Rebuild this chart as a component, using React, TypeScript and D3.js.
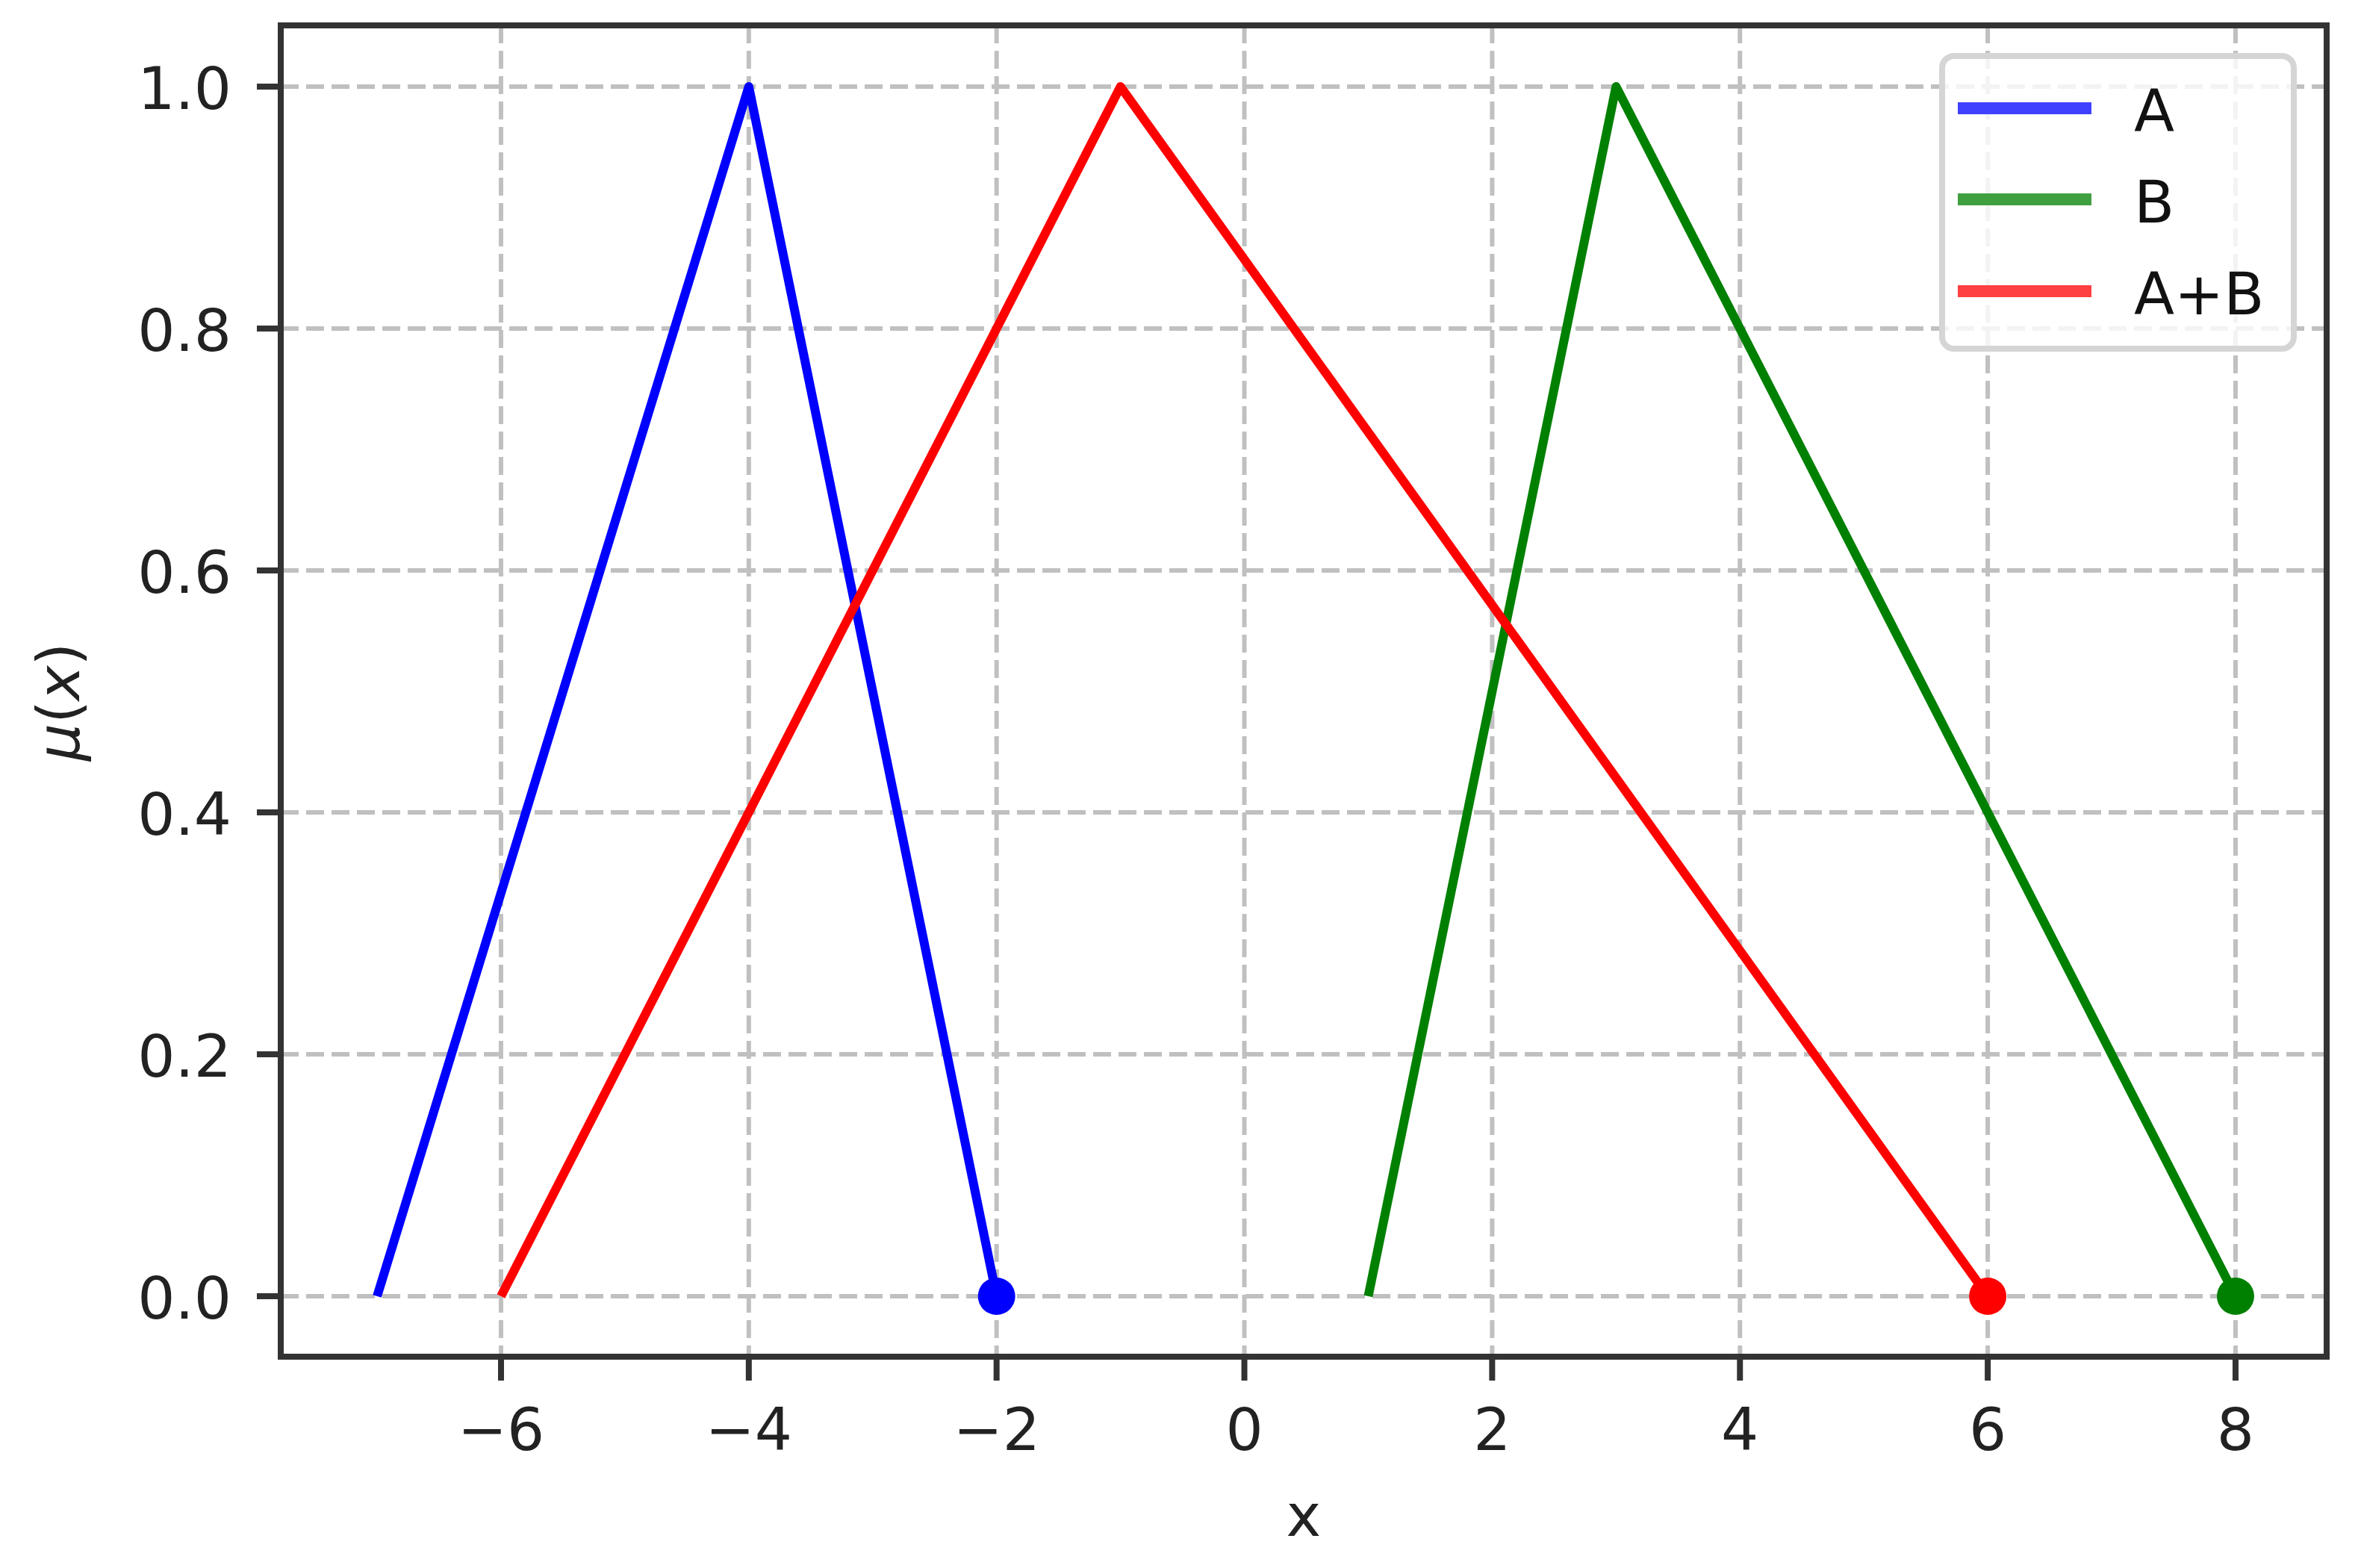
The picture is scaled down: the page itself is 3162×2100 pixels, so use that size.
import React from 'react';
import * as d3 from 'd3';

const seriesNames = ['A', 'B', 'A+B'];
const seriesColors = ['#0000ff', '#008000', '#ff0000'];
const legendColors = ['#4040ff', '#40a040', '#ff4040'];
const aX = [-7, -4, -2];
const aY = [0, 1, 0];
const bX = [1, 3, 8];
const bY = [0, 1, 0];
const abX = [-6, -1, 6];
const abY = [0, 1, 0];
const xTicks = [-6, -4, -2, 0, 2, 4, 6, 8];
const yTicks = [0, 0.2, 0.4, 0.6, 0.8, 1.0];
const xDomain = [-7.75, 8.75];
const yDomain = [-0.05, 1.05];

const W = 3162;
const H = 2100;
const L = 376, R = 3116, T = 34, B = 1817;
const FS = 79;
const FONT = '"DejaVu Sans", sans-serif';

export default function App() {
  const x = d3.scaleLinear().domain(xDomain).range([380.6, 3118.4]);
  const y = d3.scaleLinear().domain(yDomain).range([1817, 35]);
  const line = d3.line<[number, number]>().x(d => x(d[0])).y(d => y(d[1]));
  const series = [
    { xs: aX, ys: aY },
    { xs: bX, ys: bY },
    { xs: abX, ys: abY },
  ];
  const fmtX = (v: number) => (v < 0 ? '\u2212' + Math.abs(v) : String(v));
  const fmtY = (v: number) => v.toFixed(1);

  const legX1 = 2622, legX2 = 2801, legTextX = 2858;
  const legY = [145, 267, 390];

  return (
    <svg width={W} height={H} style={{ position: 'absolute', left: 0, top: 0, background: '#fff' }} fontFamily={FONT}>
      <rect x={0} y={0} width={W} height={H} fill="#fff" />
      {/* grid */}
      <g stroke="#c0c0c0" strokeWidth={6} strokeDasharray="24,10">
        {xTicks.map(t => (
          <line key={'gx' + t} x1={x(t)} x2={x(t)} y1={T} y2={B} />
        ))}
        {yTicks.map(t => (
          <line key={'gy' + t} x1={L} x2={R} y1={y(t)} y2={y(t)} />
        ))}
      </g>
      {/* series */}
      {series.map((s, i) => (
        <path
          key={'s' + i}
          d={line(s.xs.map((v, j) => [v, s.ys[j]]) as [number, number][]) || ''}
          fill="none"
          stroke={seriesColors[i]}
          strokeWidth={12}
          strokeLinejoin="round"
        />
      ))}
      {series.map((s, i) => (
        <circle
          key={'m' + i}
          cx={x(s.xs[s.xs.length - 1])}
          cy={y(s.ys[s.ys.length - 1])}
          r={25}
          fill={seriesColors[i]}
        />
      ))}
      {/* frame */}
      <rect x={L} y={T} width={R - L} height={B - T} fill="none" stroke="#333" strokeWidth={8} />
      {/* x ticks */}
      {xTicks.map(t => (
        <g key={'xt' + t}>
          <line x1={x(t)} x2={x(t)} y1={B} y2={B + 32} stroke="#333" strokeWidth={8} />
          <text x={x(t)} y={1942} fontSize={FS} textAnchor="middle" fill="#222">
            {fmtX(t)}
          </text>
        </g>
      ))}
      {/* y ticks */}
      {yTicks.map(t => (
        <g key={'yt' + t}>
          <line x1={L - 32} x2={L} y1={y(t)} y2={y(t)} stroke="#333" strokeWidth={8} />
          <text x={310} y={y(t) + 30} fontSize={FS} textAnchor="end" fill="#222">
            {fmtY(t)}
          </text>
        </g>
      ))}
      {/* axis labels */}
      <text x={(L + R) / 2} y={2057} fontSize={FS} textAnchor="middle" fill="#222">x</text>
      <text
        transform={`translate(106, 940) rotate(-90)`}
        fontSize={FS}
        textAnchor="middle"
        fill="#222"
      >
        <tspan fontStyle="italic">μ</tspan>
        <tspan>(</tspan>
        <tspan fontStyle="italic">x</tspan>
        <tspan>)</tspan>
      </text>
      {/* legend */}
      <rect x={2601} y={75} width={471} height={392} rx={16} ry={16} fill="#fff" fillOpacity={0.8} stroke="#d5d5d5" strokeWidth={8} />
      {seriesNames.map((n, i) => (
        <g key={'lg' + i}>
          <line x1={legX1} x2={legX2} y1={legY[i]} y2={legY[i]} stroke={legendColors[i]} strokeWidth={16} />
          <text x={legTextX} y={legY[i] + 31} fontSize={FS} fill="#111">{n}</text>
        </g>
      ))}
    </svg>
  );
}
